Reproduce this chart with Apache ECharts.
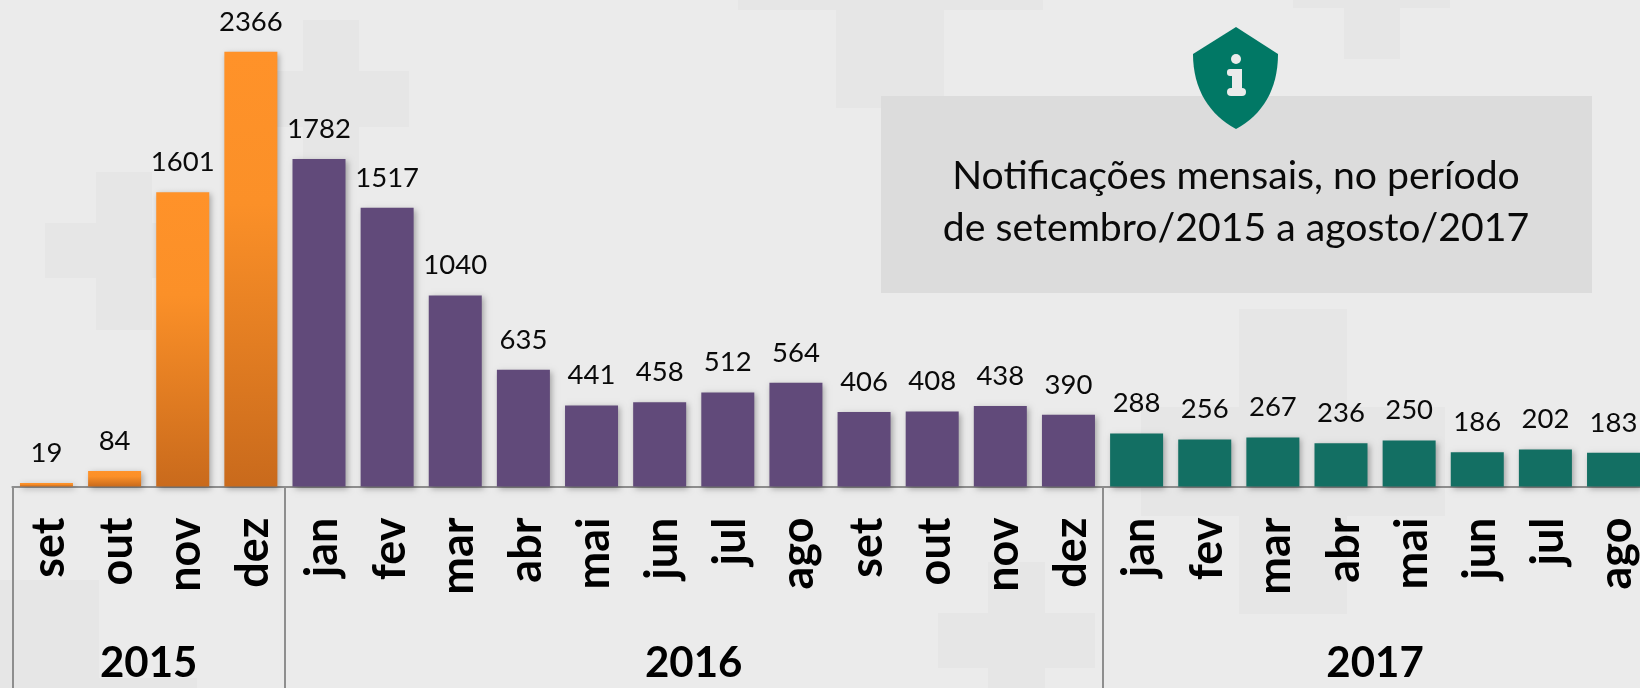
<!DOCTYPE html>
<html><head><meta charset="utf-8">
<style>html,body{margin:0;padding:0;background:#ebebeb}#c{width:1640px;height:688px}</style>
<script src="https://cdn.jsdelivr.net/npm/echarts@6/dist/echarts.min.js"></script>
</head><body><div id="c"></div>
<script>
const months = ['set','out','nov','dez','jan','fev','mar','abr','mai','jun','jul','ago','set','out','nov','dez','jan','fev','mar','abr','mai','jun','jul','ago'];
const values2015 = [19,84,1601,2366];
const values2016 = [1782,1517,1040,635,441,458,512,564,406,408,438,390];
const values2017 = [288,256,267,236,250,186,202,183];
const years = ['2015','2016','2017'];
const yearCounts = [values2015.length, values2016.length, values2017.length];
const noteLines = ['Notificações mensais, no período','de setembro/2015 a agosto/2017'];

const FONT = 'Lato, Carlito, "Open Sans", sans-serif';
const boundaries = [], centres = [];
let pos = -0.5;
yearCounts.forEach(n => { boundaries.push(pos); centres.push(pos + n / 2); pos += n; });
const yearAt = v => { const i = centres.indexOf(v); return i >= 0 ? years[i] : ''; };

const pad = (before, arr, after) => Array(before).fill(null).concat(arr, Array(after).fill(null));
const total = months.length;
function bars(name, arr, before, color) {
  return {
    name, type: 'bar', xAxisIndex: 0, yAxisIndex: 0, barWidth: 53, barGap: '-100%',
    data: pad(before, arr, total - before - arr.length),
    itemStyle: { color, shadowBlur: 6, shadowColor: 'rgba(0,0,0,0.3)', shadowOffsetX: 2, shadowOffsetY: 2 },
    label: { show: true, position: 'top', distance: 16, color: '#0a0a0a', fontFamily: FONT, fontSize: 27.5 }
  };
}
const orange = { type:'linear', x:0, y:0, x2:0, y2:1, colorStops:[{offset:0,color:'#ff9229'},{offset:0.35,color:'#fb9028'},{offset:1,color:'#c96a1c'}] };

echarts.graphic.registerShape('shield', echarts.graphic.extendShape({
  buildPath(ctx) {
    ctx.moveTo(1236,27); ctx.lineTo(1278,54);
    ctx.bezierCurveTo(1278,90,1262,115,1236,129);
    ctx.bezierCurveTo(1210,115,1193,90,1193,54);
    ctx.closePath();
  }
}));

const bgColor = '#e6e6e6';
const crosses = [
  [96,172,56,158],[45,223,158,55],
  [303,20,56,160],[252,71,157,56],
  [836,0,108,108],[738,0,305,10],
  [1344,0,56,59],[1293,0,157,8],
  [1239,309,108,305],[1141,407,304,109],
  [988,562,57,126],[938,613,157,55],
  [0,580,99,108],[0,678,197,10]
];
const graphic = crosses.map(r => ({ type:'rect', z:-10, silent:true, shape:{x:r[0],y:r[1],width:r[2],height:r[3]}, style:{fill:bgColor} }));
graphic.push({ type:'rect', z:1, silent:true, shape:{x:881,y:96,width:711,height:197}, style:{fill:'#dcdcdc'} });
graphic.push({ type:'shield', z:2, silent:true, style:{fill:'#017865'} });
graphic.push({ type:'circle', z:3, silent:true, shape:{cx:1236,cy:59,r:5}, style:{fill:'#ebebeb'} });
graphic.push({ type:'rect', z:3, silent:true, shape:{x:1227,y:69,width:15,height:7,r:3}, style:{fill:'#ebebeb'} });
graphic.push({ type:'rect', z:3, silent:true, shape:{x:1232,y:69,width:10,height:26}, style:{fill:'#ebebeb'} });
graphic.push({ type:'rect', z:3, silent:true, shape:{x:1227,y:88,width:19,height:8,r:4}, style:{fill:'#ebebeb'} });
noteLines.forEach((t,i) => graphic.push({ type:'text', z:4, silent:true, x:1236, y:176+i*52,
  style:{ text:t, fill:'#0a0a0a', font:'39.2px '+FONT, textAlign:'center', textVerticalAlign:'middle' } }));

const monthStyle = { color:'#000', fontWeight:'bold', fontFamily:FONT, fontSize:45 };
const chart = echarts.init(document.getElementById('c'), null, { renderer:'canvas' });
chart.setOption({
  animation:false,
  backgroundColor:'#ebebeb',
  grid:{ left:12.4, top:45.5, width:1635.2, height:441, outerBoundsMode:'none', containLabel:false },
  graphic,
  xAxis:[
    { type:'category', data:months, position:'bottom', axisLine:{show:false}, axisTick:{show:false},
      axisLabel:{ interval:0, rotate:90, margin:31, formatter:'{m|{value}}',
        rich:{ m:Object.assign({ padding:[6,0,0,0] }, monthStyle) }, ...monthStyle } },
    { type:'value', min:-0.5, max:23.5, position:'bottom', splitLine:{show:false},
      axisLine:{ show:true, lineStyle:{color:'#8e8e8e', width:2} },
      axisTick:{ show:true, customValues:boundaries, length:205, lineStyle:{color:'#8e8e8e', width:2} },
      axisLabel:{ show:true, customValues:centres, formatter:yearAt, margin:156, color:'#000', fontWeight:'bold', fontFamily:FONT, fontSize:42 } }
  ],
  yAxis:{ type:'value', min:0, max:2400, show:false, splitLine:{show:false} },
  series:[
    bars('2015', values2015, 0, orange),
    bars('2016', values2016, yearCounts[0], '#614a7a'),
    bars('2017', values2017, yearCounts[0]+yearCounts[1], '#136f63')
  ]
});
</script></body></html>
